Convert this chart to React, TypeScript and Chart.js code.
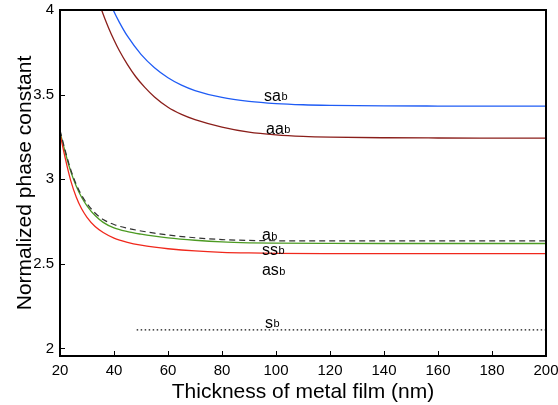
import React, { useEffect, useRef } from "react";
import { Chart, registerables } from "chart.js";

Chart.register(...registerables);

const FONT = '"Liberation Sans", Arial, Helvetica, sans-serif';

const xTickValues = [20, 40, 60, 80, 100, 120, 140, 160, 180, 200];
const yTickValues = [2, 2.5, 3, 3.5, 4];

// sa_b (blue)
const saX = [37, 39.7, 42, 45, 50, 55, 60, 65, 70, 80, 90, 100, 110, 120, 140, 160, 180, 200];
const saY = [4.1, 4.0, 3.927, 3.845, 3.738, 3.659, 3.6, 3.556, 3.524, 3.483, 3.46, 3.447, 3.44, 3.4366, 3.4334, 3.4324, 3.432, 3.432];

// aa_b (dark red)
const aaX = [33, 35.4, 38, 40, 42, 45, 48, 51.5, 55, 60, 65, 70, 80, 90, 100, 110, 120, 140, 160, 180, 200];
const aaY = [4.113, 4.0, 3.894, 3.823, 3.759, 3.677, 3.607, 3.541, 3.486, 3.425, 3.383, 3.352, 3.308, 3.278, 3.262, 3.253, 3.2485, 3.2448, 3.2436, 3.2432, 3.243];

// a_b (dashed)
const aX = [20, 22, 24, 26, 28, 30, 33, 36, 40, 45, 50, 55, 60, 70, 80, 90, 100, 120, 140, 160, 180, 200];
const aY = [3.29, 3.165, 3.055, 2.97, 2.905, 2.856, 2.8, 2.762, 2.732, 2.71, 2.694, 2.681, 2.67, 2.654, 2.643, 2.638, 2.636, 2.635, 2.635, 2.635, 2.635, 2.635];

// ss_b (green)
const ssX = [20, 22, 24, 26, 28, 30, 33, 36, 40, 45, 50, 55, 60, 70, 80, 90, 100, 120, 140, 160, 180, 200];
const ssY = [3.28, 3.155, 3.045, 2.96, 2.893, 2.843, 2.785, 2.745, 2.712, 2.69, 2.675, 2.663, 2.653, 2.639, 2.629, 2.624, 2.622, 2.6205, 2.62, 2.62, 2.62, 2.62];

// as_b (red)
const asX = [20, 22, 24, 26, 28, 30, 33, 36, 40, 45, 50, 55, 60, 70, 80, 90, 100, 120, 140, 160, 180, 200];
const asY = [3.27, 3.12, 2.99, 2.895, 2.825, 2.775, 2.72, 2.685, 2.652, 2.627, 2.61, 2.598, 2.589, 2.576, 2.568, 2.564, 2.562, 2.5605, 2.56, 2.56, 2.56, 2.56];

// s_b (dotted)
const sX = [48.4, 200];
const sY = [2.11, 2.11];

// curve labels: main text, subscript, anchor (left x, baseline y) in data units
const labelMain = ["sa", "aa", "a", "ss", "as", "s"];
const labelSub = ["b", "b", "b", "b", "b", "b"];
const labelX = [95.6, 96.3, 94.8, 94.8, 94.8, 95.9];
const labelY = [3.463, 3.27, 2.639, 2.554, 2.432, 2.122];

const pts = (xs: number[], ys: number[]) => xs.map((x, i) => ({ x, y: ys[i] }));

const framePlugin = {
  id: "frameAndLabels",
  afterDatasetsDraw(chart: any) {
    const { ctx, chartArea, scales } = chart;
    const { left, top, right, bottom } = chartArea;
    const xs = scales.x;
    const ys = scales.y;
    ctx.save();
    ctx.strokeStyle = "#000";
    ctx.lineWidth = 1;
    ctx.beginPath();
    xTickValues.forEach((v) => {
      const px = Math.round(xs.getPixelForValue(v)) + 0.5;
      ctx.moveTo(px, bottom);
      ctx.lineTo(px, bottom - 5);
    });
    yTickValues.forEach((v) => {
      const py = Math.round(ys.getPixelForValue(v)) + 0.5;
      ctx.moveTo(left, py);
      ctx.lineTo(left + 5, py);
    });
    ctx.stroke();
    ctx.lineWidth = 2;
    ctx.strokeRect(left, top, right - left, bottom - top);

    ctx.fillStyle = "#000";
    ctx.textBaseline = "alphabetic";
    ctx.textAlign = "left";
    labelMain.forEach((t, i) => {
      const px = xs.getPixelForValue(labelX[i]);
      const py = ys.getPixelForValue(labelY[i]);
      ctx.font = `16px ${FONT}`;
      ctx.fillText(t, px, py);
      const w = ctx.measureText(t).width;
      ctx.font = `11px ${FONT}`;
      ctx.fillText(labelSub[i], px + w + 0.5, py - 0.5);
    });
    ctx.restore();
  },
};

const zeroPad = (s: any) => {
  s.paddingTop = 0;
  s.paddingBottom = 0;
  s.paddingLeft = 0;
  s.paddingRight = 0;
};

export default function App() {
  const ref = useRef<HTMLCanvasElement | null>(null);

  useEffect(() => {
    if (!ref.current) return;
    const line = (data: any, color: string, dash: number[] = [], width = 1.3) => ({
      data,
      borderColor: color,
      borderWidth: width,
      borderDash: dash,
      pointRadius: 0,
      fill: false,
      cubicInterpolationMode: "monotone" as const,
    });
    const chart = new Chart(ref.current, {
      type: "line",
      data: {
        datasets: [
          line(pts(sX, sY), "#111111", [1.5, 2.5], 1.3),
          line(pts(aX, aY), "#333333", [6, 4], 1.2),
          line(pts(asX, asY), "#f0281c", [], 1.3),
          line(pts(ssX, ssY), "#4c9a22", [], 1.3),
          line(pts(aaX, aaY), "#8a1e1a", [], 1.3),
          line(pts(saX, saY), "#1f5cf5", [], 1.3),
        ],
      },
      plugins: [framePlugin],
      options: {
        animation: false,
        responsive: false,
        maintainAspectRatio: false,
        layout: { autoPadding: false, padding: { top: 10, right: 12, left: 0, bottom: 0 } },
        plugins: { legend: { display: false }, tooltip: { enabled: false } },
        scales: {
          x: {
            type: "linear",
            min: 20,
            max: 200,
            grid: { display: false, drawTicks: false },
            border: { display: false },
            afterBuildTicks: (s: any) => {
              s.ticks = xTickValues.map((v) => ({ value: v }));
            },
            afterFit: (s: any) => {
              s.height = 49;
              zeroPad(s);
            },
            ticks: {
              padding: 6,
              color: "#000",
              font: { family: FONT, size: 15 },
              callback: (v: any) => String(v),
            },
            title: {
              display: true,
              text: "Thickness of metal film (nm)",
              color: "#000",
              font: { family: FONT, size: 21 },
              padding: { top: 0, bottom: 0 },
            },
          },
          y: {
            type: "linear",
            min: 1.955,
            max: 4,
            grid: { display: false, drawTicks: false },
            border: { display: false },
            afterBuildTicks: (s: any) => {
              s.ticks = yTickValues.map((v) => ({ value: v }));
            },
            afterFit: (s: any) => {
              s.width = 60;
              zeroPad(s);
            },
            ticks: {
              padding: 6,
              color: "#000",
              font: { family: FONT, size: 15 },
              callback: (v: any) => String(v),
            },
            title: {
              display: true,
              text: "Normalized phase constant",
              color: "#000",
              font: { family: FONT, size: 21 },
              padding: { top: 13, bottom: 0 },
            },
          },
        },
      },
    });
    return () => chart.destroy();
  }, []);

  return (
    <div style={{ position: "fixed", left: 0, top: 0, width: 558, height: 405, background: "#fff" }}>
      <canvas ref={ref} width={558} height={405} style={{ width: 558, height: 405, display: "block" }} />
    </div>
  );
}
